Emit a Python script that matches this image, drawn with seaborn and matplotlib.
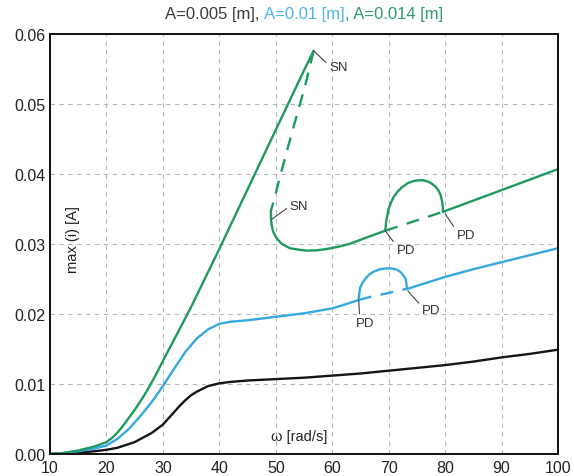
import matplotlib
matplotlib.use("Agg")
import matplotlib.pyplot as plt
import seaborn as sns

# ---------------- data ----------------
black_x = [10, 12, 15, 18, 20, 22, 25, 28, 30, 31, 32, 33, 34, 35, 36, 37, 38, 39, 40, 42, 45, 50, 55, 60, 65, 70, 75, 80, 85, 90, 95, 100]
black_y = [0.0, 0.0001, 0.0002, 0.0004, 0.0006, 0.0009, 0.0017, 0.0030, 0.0042, 0.0051, 0.0060, 0.0069, 0.0077, 0.0084,
           0.0089, 0.0093, 0.0097, 0.0099, 0.0101, 0.0103, 0.0105, 0.0107, 0.0109, 0.0112, 0.0115, 0.0119, 0.0123,
           0.0127, 0.0132, 0.0138, 0.0143, 0.0149]

blue_low_x = [10, 12, 15, 18, 20, 22, 24, 26, 28, 30, 32, 34, 36, 38, 40, 42, 45, 50, 55, 60, 62, 64.7]
blue_low_y = [0.0, 0.0001, 0.0004, 0.0008, 0.0012, 0.0022, 0.0036, 0.0054, 0.0074, 0.0097, 0.0122, 0.0146, 0.0165,
              0.0178, 0.0186, 0.0189, 0.0191, 0.0196, 0.0201, 0.0208, 0.0213, 0.0220]
blue_unst_x = [64.7, 67.0, 70.0, 73.2]
blue_unst_y = [0.0220, 0.0225, 0.0230, 0.0236]
blue_loop_x = [64.67, 64.8, 64.96, 65.3, 65.85, 66.5, 67.33, 68.5, 69.70, 70.6, 71.47, 72.1, 72.65, 73.0, 73.12, 73.24]
blue_loop_y = [0.0220, 0.0230, 0.0238, 0.0244, 0.0250, 0.0256, 0.02605, 0.0264, 0.02652, 0.0265, 0.02633, 0.0260,
               0.02548, 0.0250, 0.02452, 0.02357]
blue_high_x = [73.24, 80, 85, 90, 95, 100]
blue_high_y = [0.02357, 0.0253, 0.0264, 0.0274, 0.0284, 0.0294]

green_up_x = [10, 12, 15, 18, 20, 21, 22, 23, 24, 25, 26, 27, 28, 29, 30, 33, 35, 40, 45, 50, 55, 56.7]
green_up_y = [0.0, 0.0001, 0.0005, 0.0011, 0.0017, 0.0023, 0.0031, 0.0041, 0.0052, 0.0063, 0.0075, 0.0088, 0.0102,
              0.0117, 0.0133, 0.0179, 0.0210, 0.0293, 0.0378, 0.0463, 0.0548, 0.0576]
green_sn_x = [56.7, 55.2, 53.1, 51.1, 49.6, 49.13]
green_sn_y = [0.0576, 0.0526, 0.0466, 0.0407, 0.0360, 0.03476]
green_mid_x = [49.13, 49.15, 49.25, 49.48, 49.75, 50.07, 50.5, 51.07, 51.8, 52.55, 54.0, 55.5, 57.3, 59.06, 61.0, 63.0, 66.0, 69.4]
green_mid_y = [0.03476, 0.0338, 0.0328, 0.0319, 0.0314, 0.03095, 0.0305, 0.0300, 0.0297, 0.02938, 0.0292, 0.02905,
               0.0291, 0.02929, 0.0296, 0.0300, 0.0309, 0.0319]
green_unst_x = [69.4, 74.5, 79.62]
green_unst_y = [0.0319, 0.03325, 0.0346]
green_loop_x = [69.40, 69.57, 69.99, 70.4, 70.87, 71.6, 72.35, 73.4, 74.42, 75.3, 76.19, 77.0, 77.67, 78.3, 78.85, 79.2, 79.44, 79.58, 79.62]
green_loop_y = [0.0319, 0.0333, 0.0350, 0.0359, 0.0367, 0.0375, 0.0381, 0.0387, 0.0390, 0.0391, 0.0391, 0.0389,
                0.0386, 0.0382, 0.0376, 0.0370, 0.0362, 0.0354, 0.0346]
green_high_x = [79.62, 85, 90, 95, 100]
green_high_y = [0.0346, 0.0362, 0.0377, 0.0392, 0.0407]

# annotations: (label, point x, point y, text x, text y, ha, relpos)
annots = [
    ("SN", 56.7, 0.0576, 59.5, 0.0553, "left", (0.0, 0.6)),
    ("SN", 49.2, 0.0335, 52.5, 0.0354, "left", (0.0, 0.5)),
    ("PD", 69.4, 0.0319, 71.4, 0.0292, "left", (0.0, 0.8)),
    ("PD", 80.0, 0.0343, 82.1, 0.0313, "left", (0.0, 0.8)),
    ("PD", 64.7, 0.0220, 65.9, 0.0187, "center", (0.18, 1.0)),
    ("PD", 73.4, 0.0233, 75.9, 0.0205, "left", (0.0, 0.8)),
]

xticks = [10, 20, 30, 40, 50, 60, 70, 80, 90, 100]
yticks = [0.00, 0.01, 0.02, 0.03, 0.04, 0.05, 0.06]
ytick_labels = ["0.00", "0.01", "0.02", "0.03", "0.04", "0.05", "0.06"]

title_parts = ["A=0.005 [m], ", "A=0.01 [m]", ", A=0.014 [m]"]

# ---------------- style ----------------
sns.set_theme(style="white")
plt.rcParams["font.family"] = ["Liberation Sans", "DejaVu Sans"]

BLACK = "#151515"
BLUE = "#35a9de"
GREEN = "#1f9a5e"
title_colors = ["#3a3a3a", "#4fb4e6", "#2e9c6a"]

fig = plt.figure(figsize=(5.74, 4.77), dpi=100)
ax = fig.add_axes([50 / 574, 1 - 455 / 477, 508 / 574, 420 / 477])

LW = 1.7
DASH = (0, (5.5, 4.0))

def draw(xs, ys, color, dashed=False):
    sns.lineplot(x=xs, y=ys, sort=False, estimator=None, color=color, linewidth=LW, ax=ax)
    line = ax.lines[-1]
    line.set_solid_joinstyle("round")
    if dashed:
        line.set_linestyle(DASH)

draw(black_x, black_y, BLACK)
draw(blue_low_x, blue_low_y, BLUE)
draw(blue_unst_x, blue_unst_y, BLUE, dashed=True)
draw(blue_loop_x, blue_loop_y, BLUE)
draw(blue_high_x, blue_high_y, BLUE)
draw(green_up_x, green_up_y, GREEN)
draw(green_sn_x, green_sn_y, GREEN, dashed=True)
draw(green_mid_x, green_mid_y, GREEN)
draw(green_unst_x, green_unst_y, GREEN, dashed=True)
draw(green_loop_x, green_loop_y, GREEN)
draw(green_high_x, green_high_y, GREEN)

for lab, px, py, tx, ty, ha, rp in annots:
    ax.annotate(lab, xy=(px, py), xytext=(tx, ty), ha=ha, va="center",
                fontsize=9.5, color="#333333",
                arrowprops=dict(arrowstyle="-", color="#444444", lw=0.8,
                                shrinkA=0, shrinkB=0, relpos=rp))

ax.set_xlim(10, 100)
ax.set_ylim(0, 0.06)
ax.set_xticks(xticks)
ax.set_yticks(yticks)
ax.set_yticklabels(ytick_labels)
ax.set_xlabel("")
ax.set_ylabel("")
ax.tick_params(direction="in", length=4, width=0.8, labelsize=11.5, colors="#222222", pad=3)
ax.tick_params(axis="x", pad=4)
ax.grid(True, color="#b8b8b8", linestyle=(0, (4, 4)), linewidth=0.8)
for sp in ax.spines.values():
    sp.set_color("#111111")
    sp.set_linewidth(1.4)

ax.text(54.1, 0.0026, "ω [rad/s]", ha="center", va="center", fontsize=10.5, color="#222222")
ax.text(14.1, 0.0308, "max (i) [A]", ha="center", va="center", rotation=90, fontsize=10.5, color="#222222")

# multi-coloured title centred above the axes
fig.canvas.draw()
renderer = fig.canvas.get_renderer()
texts = []
x = 0.0
for part, col in zip(title_parts, title_colors):
    t = fig.text(x, 1 - 15 / 477, part, color=col, fontsize=12, ha="left", va="center")
    bb = t.get_window_extent(renderer=renderer)
    texts.append(t)
    x += bb.width / fig.bbox.width
total = x
center = (50 + 558) / 2 / 574
x = center - total / 2
for t in texts:
    bb = t.get_window_extent(renderer=renderer)
    t.set_x(x)
    x += bb.width / fig.bbox.width

fig.savefig("out.png", dpi=100)
